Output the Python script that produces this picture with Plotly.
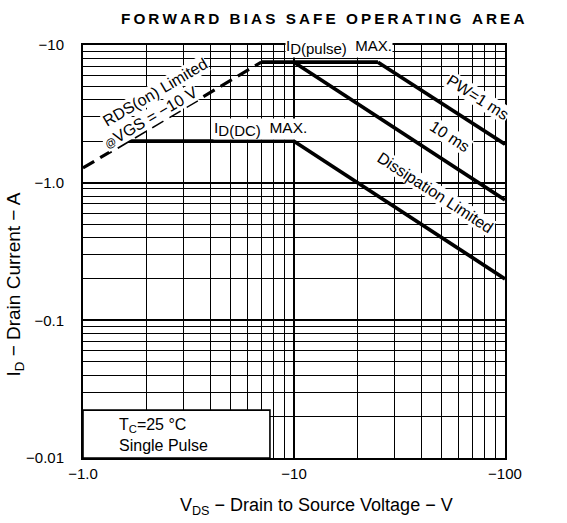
import plotly.graph_objects as go

# Safe operating area boundaries (VDS in -V, ID in -A, plotted as magnitudes)
rds_v = [1.0, 7.0]
rds_i = [1.28, 7.5]

dc_v = [1.55, 10.0]
dc_i = [2.0, 2.0]

diss_v = [10.0, 100.0]
diss_i = [2.0, 0.2]

pulse_v = [7.0, 25.0]
pulse_i = [7.5, 7.5]

pw10_v = [10.0, 100.0]
pw10_i = [7.5, 0.75]

pw1_v = [25.0, 100.0]
pw1_i = [7.5, 1.9]

x_ticks = [1, 10, 100]
x_ticklabels = ["\u22121.0", "\u221210", "\u2212100"]
y_ticks = [0.01, 0.1, 1, 10]
y_ticklabels = ["\u22120.01", "\u22120.1", "\u22121.0", "\u221210"]

minor_x = [m * 10 ** d for d in range(0, 2) for m in range(2, 10)]
minor_y = [m * 10 ** d for d in range(-2, 1) for m in range(2, 10)]

FONT = "Liberation Sans"
solid = dict(color="black", width=3.7)

fig = go.Figure()
fig.add_trace(go.Scatter(x=rds_v, y=rds_i, mode="lines",
                         line=dict(color="black", width=3.2, dash="13px,7px")))
for xs, ys in [(dc_v, dc_i), (diss_v, diss_i), (pulse_v, pulse_i),
               (pw10_v, pw10_i), (pw1_v, pw1_i)]:
    fig.add_trace(go.Scatter(x=xs, y=ys, mode="lines", line=solid))

axis_common = dict(
    type="log", showline=True, linecolor="black", linewidth=2, mirror=True,
    showgrid=True, gridcolor="black", gridwidth=1.6, ticks="",
    tickfont=dict(family=FONT, size=15, color="black"), zeroline=False,
)
fig.update_xaxes(axis_common, range=[0, 2], tickvals=x_ticks, ticktext=x_ticklabels,
                 ticklabelstandoff=1,
                 minor=dict(tickvals=minor_x, showgrid=True, gridcolor="black", gridwidth=1.4))
fig.update_yaxes(axis_common, range=[-2, 1], tickvals=y_ticks, ticktext=y_ticklabels,
                 ticklabelstandoff=14,
                 minor=dict(tickvals=minor_y, showgrid=True, gridcolor="black", gridwidth=1.4))


def lab(text, lx, ly, angle=0, size=16):
    return dict(text=text, x=lx, y=ly, xref="x", yref="y", showarrow=False,
                textangle=angle, bgcolor="white", borderpad=0,
                font=dict(family=FONT, size=size, color="black"))


title = "\u2009".join("FORWARD BIAS SAFE OPERATING AREA")
big_sub = "<sub><span style='font-size:15px'>%s</span></sub>"

annotations = [
    lab("RDS(on) Limited", 0.34, 0.655, -30.5),
    lab("<span style='font-size:11px'>@</span>VGS = \u221210 V", 0.32, 0.47, -30.5),
    lab("I" + big_sub % "D(pulse)" + "  MAX.", 1.213, 0.985, 0, 15),
    lab("I" + big_sub % "D(DC)" + "  MAX.", 0.84, 0.39, 0, 15.5),
    lab("PW=1 ms", 1.872, 0.62, 32.5),
    lab("10 ms", 1.739, 0.336, 32.8),
    lab("Dissipation Limited", 1.668, -0.073, 33),
    dict(text=title, x=0.5, y=1, xref="paper", yref="paper", xshift=28,
         yanchor="middle", yshift=27, showarrow=False,
         font=dict(family=FONT, size=15.3, color="black", weight="bold")),
    dict(text="V<sub>DS</sub> \u2212 Drain to Source Voltage \u2212 V", x=0.5, y=0,
         xref="paper", yref="paper", yanchor="middle", yshift=-48, xshift=22,
         showarrow=False, font=dict(family=FONT, size=18, color="black")),
    dict(text="I<sub>D</sub> \u2212 Drain Current \u2212 A", x=0, y=0.42, textangle=-90,
         xref="paper", yref="paper", xanchor="center", xshift=-68, showarrow=False,
         font=dict(family=FONT, size=19, color="black")),
    dict(text="T<sub>C</sub>=25 \u00b0C<br>Single Pulse", x=0, y=0.056, xanchor="left",
         yanchor="middle", xshift=34, align="left", xref="paper", yref="paper",
         showarrow=False, font=dict(family=FONT, size=16, color="black")),
]

fig.update_layout(
    width=567, height=523, showlegend=False,
    margin=dict(l=83, r=62, t=45, b=65),
    plot_bgcolor="white", paper_bgcolor="white",
    annotations=annotations,
    shapes=[dict(type="rect", xref="paper", yref="paper", x0=0, x1=0.443, y0=0, y1=0.116,
                 fillcolor="white", line=dict(color="black", width=1.6), layer="above")],
)

fig.write_html("out.html", config={"displayModeBar": False},
               post_script="document.body.style.margin='0';document.body.style.overflow='hidden';")
